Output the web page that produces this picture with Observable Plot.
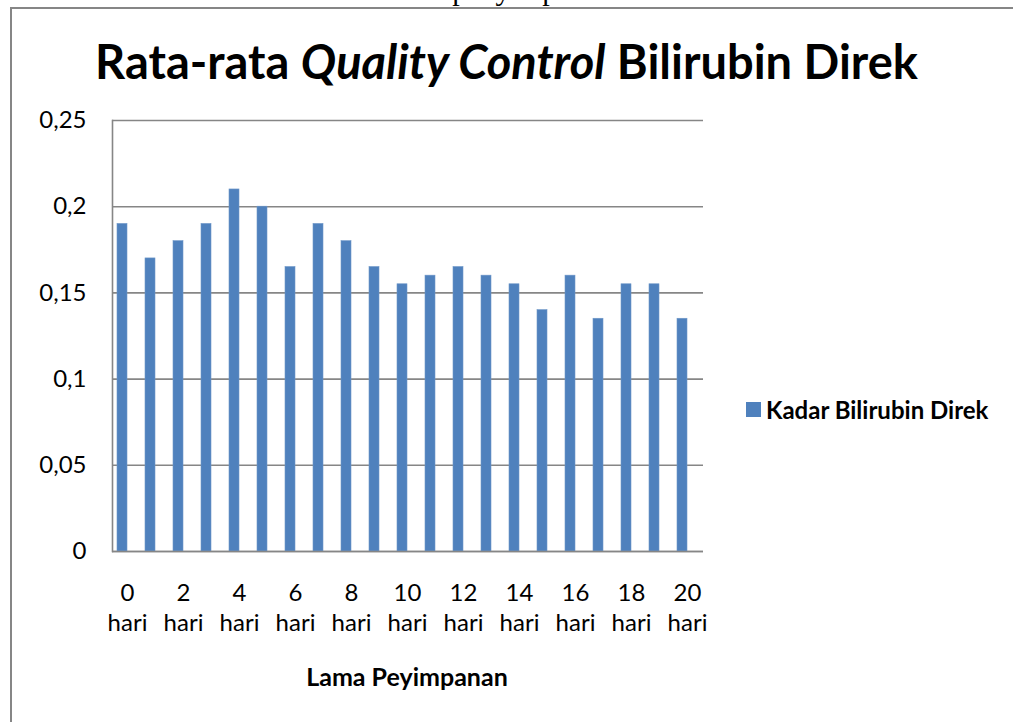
<!DOCTYPE html>
<html>
<head>
<meta charset="utf-8">
<script src="https://cdn.jsdelivr.net/npm/d3@7"></script>
<script src="https://cdn.jsdelivr.net/npm/@observablehq/plot@0.6"></script>
<style>
  html, body { margin: 0; padding: 0; background: #fff; }
  #wrap { position: relative; width: 1013px; height: 722px; overflow: hidden; background: #fff; font-family: Lato, "Open Sans", sans-serif; }
  #frag { position: absolute; left: -75px; top: -25px; font-family: "Liberation Serif", serif; font-size: 30px; line-height: 1; white-space: nowrap; color: #000; }
  #border { position: absolute; left: 10px; top: 7px; width: 1100px; height: 900px; border-left: 2.5px solid #868686; border-top: 2.5px solid #868686; }
  #title { position: absolute; left: 0; width: 1013px; top: 33px; text-align: center; font-weight: 700; font-size: 47px; color: #000; white-space: nowrap; }
  #chart { position: absolute; left: 0; top: 0; }
  #legend { position: absolute; left: 746px; top: 395px; display: flex; align-items: center; font-weight: 700; font-size: 24px; color: #000; white-space: nowrap; }
  #legend .sw { width: 15px; height: 15px; background: #4F81BD; margin-right: 5px; }
  #xtitle { position: absolute; left: 257px; width: 300px; top: 661px; text-align: center; font-weight: 700; font-size: 25px; color: #000; white-space: nowrap; }
</style>
</head>
<body>
<div id="wrap">
  <div id="frag">Rata-rata Bilirubin Direk berdasarkan lama penyimpanan.</div>
  <div id="border"></div>
  <div id="chart"></div>
  <div id="title">Rata-rata <i>Quality Control</i> Bilirubin Direk</div>
  <div id="legend"><div class="sw"></div><span>Kadar Bilirubin Direk</span></div>
  <div id="xtitle">Lama Peyimpanan</div>
</div>
<script>
// Data
const days = [0,1,2,3,4,5,6,7,8,9,10,11,12,13,14,15,16,17,18,19,20];
const kadar = [0.19,0.17,0.18,0.19,0.21,0.20,0.165,0.19,0.18,0.165,0.155,0.16,0.165,0.16,0.155,0.14,0.16,0.135,0.155,0.155,0.135];
const xTickDays = [0,2,4,6,8,10,12,14,16,18,20];
const yTicks = [0,0.05,0.1,0.15,0.2,0.25];
const yTickLabels = ["0","0,05","0,1","0,15","0,2","0,25"];

const data = days.map((d, i) => ({day: d, value: kadar[i]}));

const chart = Plot.plot({
  width: 1013,
  height: 722,
  marginLeft: 112,
  marginRight: 310,
  marginTop: 120,
  marginBottom: 171,
  style: {fontFamily: "Lato, 'Open Sans', sans-serif", fontSize: "24px", color: "#000", background: "transparent"},
  x: {type: "band", domain: days, range: [106, 697], paddingInner: 0.645, paddingOuter: 0.3225},
  y: {domain: [0, 0.25]},
  marks: [
    Plot.ruleY(yTicks, {stroke: "#868686", strokeWidth: 1.6}),
    Plot.frame({anchor: "left", stroke: "#868686", strokeWidth: 1.6}),
    Plot.barY(data, {x: "day", y: "value", fill: "#4F81BD", stroke: "#6f97c8", strokeWidth: 0.6}),
    Plot.ruleY([0], {stroke: "#868686", strokeWidth: 1.6}),
    Plot.axisY(yTicks, {tickSize: 0, tickPadding: 26, fontSize: 24, tickFormat: (d) => yTickLabels[yTicks.indexOf(d)], label: null}),
    Plot.axisX(xTickDays, {tickSize: 0, tickPadding: 28, fontSize: 24, lineHeight: 1.25, dx: 5, tickFormat: (d) => d + "\nhari", label: null})
  ]
});
document.getElementById("chart").appendChild(chart);
</script>
</body>
</html>
